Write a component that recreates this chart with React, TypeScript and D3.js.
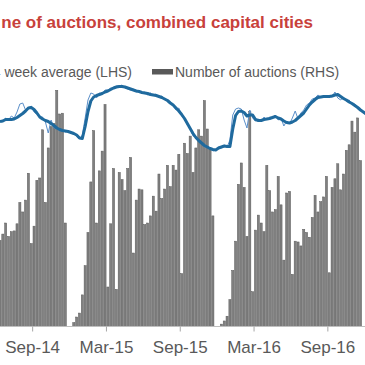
import * as d3 from 'd3';

// weekly number of auctions (RHS), week 0 = mid Jun-14
const auctions = [
  1090, 1170, 1310, 1140, 1200, 1210, 1300, 1570, 1450, 1600,
  1940, 1050, 1270, 1850, 1880, 2490, 1570, 2260, 2530, 2570,
  2990, 2690, 2700, 1310, 0, 0, 50, 120, 170, 400,
  770, 1190, 1830, 2480, 1310, 1970, 2220, 2810, 500, 1300,
  2000, 470, 1950, 1860, 1720, 2000, 2140, 930, 1600, 1740,
  1730, 1290, 1310, 1400, 1650, 1460, 1930, 1620, 1740, 2040,
  1770, 2040, 1980, 2180, 670, 2320, 2190, 2410, 1950, 2260,
  2490, 2410, 2860, 2500, 2260, 1400, 0, 0, 30, 70,
  130, 340, 710, 1080, 1800, 2070, 1760, 1140, 2720, 440,
  1220, 1410, 1310, 1200, 2040, 1720, 1450, 1480, 1900, 1540,
  840, 1690, 1710, 660, 1080, 1070, 1020, 1230, 1190, 1130,
  1380, 1660, 1450, 1580, 1640, 1900, 680, 1760, 1870, 2060,
  1730, 1930, 2230, 2300, 2600, 2460, 2640, 2100,
];

// weekly clearance rate (LHS, %)
const weekly = [
  81.1, 81.1, 81.7, 81.3, 82.1, 81.7, 82.9, 84.5, 84.7, 83.3,
  83.7, 84.1, 82.9, 82.5, 81.9, 81.9, 80.9, 78.7, 81.3, 79.7,
  79.7, 79.1, 79.3, 78.9, 79.1, 78.7, 78.5, 78.1, 77.5, 78.3,
  81.7, 85.3, 86.7, 86.5, 85.7, 86.7, 86.5, 87.3, 87.3, 87.7,
  87.7, 88.1, 88.1, 88.3, 87.7, 87.5, 87.3, 87.5, 86.9, 87.1,
  86.7, 86.9, 86.3, 86.7, 86.3, 86.5, 85.9, 86.1, 85.5, 85.3,
  84.7, 84.1, 83.3, 83.7, 82.1, 81.5, 80.3, 79.7, 78.1, 77.9,
  77.3, 76.9, 75.9, 76.1, 75.7, 75.1, 75.3, 75.9, 75.7, 76.3,
  75.9, 77.3, 82.3, 83.5, 83.7, 83.5, 81.3, 79.7, 83.3, 81.7,
  81.1, 81.5, 80.9, 81.9, 81.3, 81.9, 81.7, 82.3, 81.3, 81.7,
  80.1, 81.1, 80.5, 81.7, 83.1, 81.5, 82.7, 83.3, 84.3, 84.7,
  85.5, 85.7, 86.3, 85.9, 86.1, 85.9, 86.1, 85.9, 86.9, 85.7,
  85.3, 85.9, 85.1, 85.3, 84.5, 84.5, 83.7, 83.3, 82.7, 82.3,
];

// 4 week average (LHS, %)
const average = [
  81.0, 81.1, 81.4, 81.4, 81.4, 81.5, 81.8, 82.2, 82.6, 83.1,
  83.7, 83.8, 83.4, 82.7, 81.9, 81.5, 81.2, 81.0, 80.6, 80.2,
  79.7, 79.4, 79.2, 79.1, 79.0, 78.8, 78.6, 78.3, 77.7, 77.6,
  80.0, 83.0, 85.1, 85.9, 86.2, 86.4, 86.6, 86.9, 87.1, 87.4,
  87.7, 87.9, 88.0, 88.0, 87.9, 87.7, 87.5, 87.3, 87.1, 87.0,
  86.8, 86.7, 86.6, 86.4, 86.3, 86.2, 86.0, 85.8, 85.5, 85.2,
  84.7, 84.3, 83.7, 83.1, 82.4, 81.6, 80.6, 79.6, 78.6, 77.8,
  77.2, 76.7, 76.2, 75.9, 75.6, 75.4, 75.3, 75.7, 75.9, 76.1,
  76.0, 76.0, 79.5, 82.2, 83.0, 83.1, 82.8, 82.1, 82.3, 82.3,
  81.4, 81.2, 81.2, 81.4, 81.5, 81.6, 81.8, 82.0, 81.7, 81.5,
  81.1, 80.8, 80.7, 80.9, 81.2, 81.7, 82.2, 82.7, 83.5, 84.3,
  84.9, 85.4, 85.8, 85.9, 86.0, 86.0, 86.0, 86.1, 86.3, 86.4,
  86.0, 85.6, 85.3, 84.9, 84.6, 84.2, 83.8, 83.3, 82.9, 82.5,
];

// tick positions sit between weekly categories
const tickWeeks = [11.5, 37.5, 63.5, 89.5, 115.5];
const tickLabels = ['Sep-14', 'Mar-15', 'Sep-15', 'Mar-16', 'Sep-16'];

const W = 365;
const H = 365;
const font = '"Liberation Sans", Arial, sans-serif';

export default function App() {
  const baseY = 326.5;
  const x = d3.scaleLinear().domain([0, 127]).range([0, 360.5]);
  const yR = d3.scaleLinear().domain([0, 3500]).range([baseY, 50]);
  const yL = d3.scaleLinear().domain([40, 90]).range([baseY, 76.5]);

  const line = d3.line<number>()
    .x((_, i) => x(i))
    .y(d => yL(d));

  const barW = 2.1;

  return (
    <svg
      width={W}
      height={H}
      style={{ position: 'absolute', left: 0, top: 0, background: '#fff', overflow: 'hidden' }}
    >
      <text x={313} y={28} textAnchor="end" fontFamily={font} fontWeight="bold"
        fontSize={17} fill="#c8413b">
        ne of auctions, combined capital cities
      </text>

      {/* legend */}
      <text x={132} y={77} textAnchor="end" fontFamily={font} fontSize={14} fill="#595959">
        4 week average (LHS)
      </text>
      <rect x={152} y={69} width={21} height={5.5} fill="#595959" />
      <text x={175} y={77} fontFamily={font} fontSize={14} fill="#595959">
        Number of auctions (RHS)
      </text>

      {/* bars */}
      <g>
        {auctions.map((v, i) => v > 0 && (
          <rect key={i} x={x(i) - barW / 2} y={yR(v)} width={barW}
            height={baseY - yR(v)} fill="#808080" stroke="#5a5a5a" strokeWidth={0.5} />
        ))}
      </g>

      {/* axis */}
      <line x1={0} x2={W} y1={baseY} y2={baseY} stroke="#bfbfbf" strokeWidth={1} />
      {tickWeeks.map((t, i) => (
        <g key={i} transform={`translate(${x(t)},0)`}>
          <line y1={baseY} y2={baseY + 5} stroke="#a6a6a6" strokeWidth={1} />
          <text y={353} textAnchor="middle" fontFamily={font} fontSize={17} fill="#595959">
            {tickLabels[i]}
          </text>
        </g>
      ))}

      {/* lines */}
      <path d={line(weekly) ?? ''} fill="none" stroke="#5b8fc9" strokeWidth={1} />
      <path d={line(average) ?? ''} fill="none" stroke="#1f6a9e" strokeWidth={3}
        strokeLinejoin="round" />
    </svg>
  );
}
